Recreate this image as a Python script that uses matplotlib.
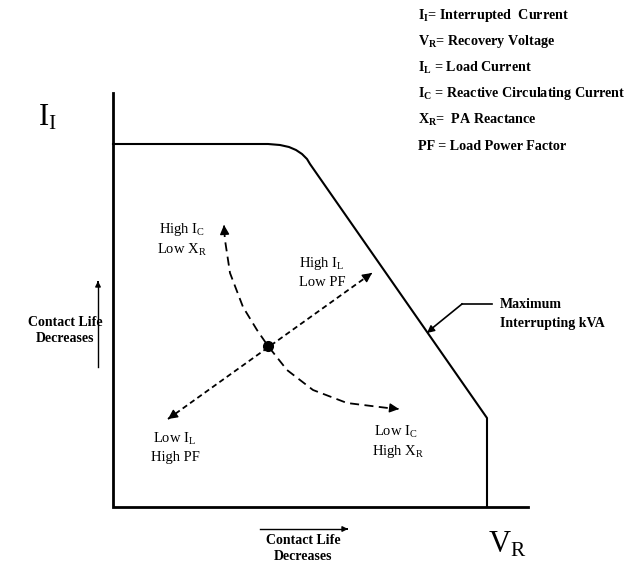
import matplotlib.pyplot as plt
import numpy as np

plt.rcParams['font.family'] = ['Liberation Serif', 'DejaVu Serif']
plt.rcParams['mathtext.fontset'] = 'custom'
plt.rcParams['mathtext.rm'] = 'Liberation Serif'
plt.rcParams['mathtext.bf'] = 'Liberation Serif:bold'
plt.rcParams['mathtext.it'] = 'Liberation Serif:italic'

# diagram, in pixel units (y grows downwards)
axis_x = [113, 113, 528]
axis_y = [93, 507, 507]

# max interrupting kVA boundary
limit_x = [113, 268, 280, 289, 296, 302, 307, 310, 487, 487]
limit_y = [144, 144, 145, 147, 150, 154, 159, 164, 418, 507]

# curved dashed path (I_C / X_R)
curve_x = [224, 225, 230, 243, 257, 268, 287, 313, 347, 396]
curve_y = [228, 240, 273, 307, 330, 346, 370, 390, 403, 409]

# straight dashed path (I_L / PF)
line_x = [168, 372]
line_y = [419, 273]
centre = (268, 346)

legend_lines = [
    r'$\mathbf{I_I}$= Interrupted  Current',
    r'$\mathbf{V_R}$= Recovery Voltage',
    r'$\mathbf{I_L}$ = Load Current',
    r'$\mathbf{I_C}$ = Reactive Circulating Current',
    r'$\mathbf{X_R}$=  PA Reactance',
    r'PF = Load Power Factor',
]
legend_y = [16, 42, 68, 94, 120, 146]

fig = plt.figure(figsize=(6.31, 5.64), dpi=100)
ax = fig.add_axes([0, 0, 1, 1])
ax.set_xlim(0, 631)
ax.set_ylim(564, 0)
ax.axis('off')

ax.plot(axis_x, axis_y, color='black', lw=2.0, solid_joinstyle='miter')
ax.plot(limit_x, limit_y, color='black', lw=1.5)


def head(x0, y0, x1, y1, size=14):
    # arrow head only, pointing from (x0, y0) towards (x1, y1)
    d = np.hypot(x1 - x0, y1 - y0)
    bx = x1 - (x1 - x0) / d
    by = y1 - (y1 - y0) / d
    ax.annotate('', xy=(x1, y1), xytext=(bx, by),
                arrowprops=dict(arrowstyle='-|>', color='black', lw=1.0,
                                mutation_scale=size, shrinkA=0, shrinkB=0))


# curved arrow
ax.plot(curve_x, curve_y, color='black', lw=1.3, dashes=(5, 3))
head(curve_x[1], curve_y[1], curve_x[0], curve_y[0] - 3)
head(curve_x[-2], curve_y[-2], curve_x[-1] + 3, curve_y[-1])

# straight arrow
ax.plot(line_x, line_y, color='black', lw=1.3, dashes=(3, 2))
head(line_x[1], line_y[1], line_x[0], line_y[0])
head(line_x[0], line_y[0], line_x[1], line_y[1])
ax.plot(*centre, 'o', color='black', ms=7)

fs = 10.5
ax.text(182, 229, r'High I$_\mathrm{C}$', ha='center', va='center', fontsize=fs)
ax.text(182, 250, r'Low X$_\mathrm{R}$', ha='center', va='center', fontsize=fs)
ax.text(322, 264, r'High I$_\mathrm{L}$', ha='center', va='center', fontsize=fs)
ax.text(322, 282, 'Low PF', ha='center', va='center', fontsize=fs)
ax.text(175, 439, r'Low I$_\mathrm{L}$', ha='center', va='center', fontsize=fs)
ax.text(175, 457, 'High PF', ha='center', va='center', fontsize=fs)
ax.text(396, 432, r'Low I$_\mathrm{C}$', ha='center', va='center', fontsize=fs)
ax.text(398, 451, r'High X$_\mathrm{R}$', ha='center', va='center', fontsize=fs)

# kVA callout
ax.plot([462, 492], [304, 304], color='black', lw=1.2)
ax.plot([462, 430], [304, 330], color='black', lw=1.2)
head(462, 304, 427, 333, size=11)
ax.text(500, 304, 'Maximum', ha='left', va='center', fontsize=10, fontweight='bold')
ax.text(500, 323, 'Interrupting kVA', ha='left', va='center', fontsize=10, fontweight='bold')

# axis direction notes
ax.plot([98, 98], [367, 286], color='black', lw=1.0)
head(98, 367, 98, 281, size=8)
ax.text(65, 322, 'Contact Life', ha='center', va='center', fontsize=10, fontweight='bold')
ax.text(65, 339, 'Decreases', ha='center', va='center', fontsize=10, fontweight='bold')
ax.plot([260, 343], [529, 529], color='black', lw=1.0)
head(260, 529, 348, 529, size=8)
ax.text(303, 541, 'Contact Life', ha='center', va='center', fontsize=10, fontweight='bold')
ax.text(303, 557, 'Decreases', ha='center', va='center', fontsize=10, fontweight='bold')

ax.text(38, 118, r'I$_\mathrm{I}$', ha='left', va='center', fontsize=22)
ax.text(488, 545, r'V$_\mathrm{R}$', ha='left', va='center', fontsize=22)

for txt, y in zip(legend_lines, legend_y):
    ax.text(418, y, txt, ha='left', va='center', fontsize=10.2, fontweight='bold')

fig.savefig('out.png', dpi=100)
